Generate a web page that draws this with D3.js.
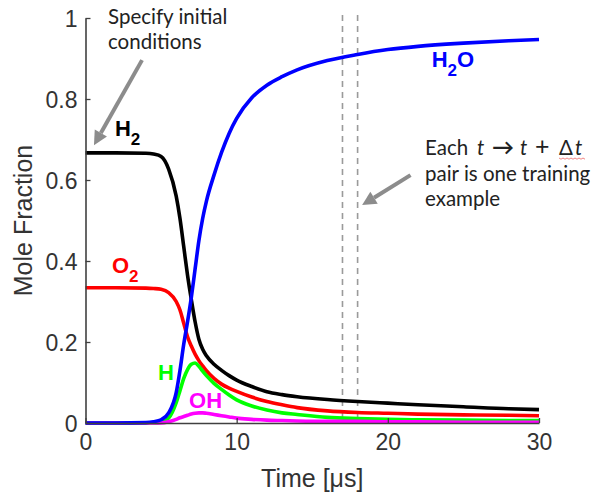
<!DOCTYPE html>
<html><head><meta charset="utf-8">
<script src="https://cdn.jsdelivr.net/npm/d3@7"></script>
<style>body{margin:0;background:#fff}svg{display:block}</style>
</head><body>
<svg id="c" width="599" height="493"></svg>
<script>
// ---- data ----
const times = [0,2,4,4.5,5,5.5,6,6.25,6.5,6.75,7,7.25,7.5,7.75,8,8.5,9,9.5,10,11,12,13,14,16,18,20,22,25,28,30];
const H2  = [0.667,0.667,0.666,0.664,0.658,0.627,0.56,0.505,0.435,0.365,0.305,0.25,0.207,0.182,0.166,0.145,0.13,0.117,0.106,0.09,0.077,0.07,0.065,0.058,0.053,0.049,0.045,0.04,0.035,0.033];
const O2  = [0.334,0.334,0.333,0.332,0.33,0.322,0.3,0.279,0.246,0.213,0.19,0.17,0.154,0.141,0.129,0.11,0.096,0.086,0.078,0.064,0.053,0.045,0.038,0.03,0.026,0.024,0.022,0.02,0.019,0.018];
const H   = [0,0,0,0,0.002,0.012,0.05,0.08,0.11,0.132,0.145,0.148,0.14,0.128,0.117,0.098,0.083,0.069,0.057,0.042,0.032,0.025,0.021,0.014,0.011,0.009,0.008,0.007,0.006,0.006];
const OH  = [0,0,0,0,0,0.003,0.009,0.013,0.016,0.019,0.022,0.024,0.025,0.025,0.024,0.021,0.018,0.015,0.012,0.009,0.007,0.006,0.005,0.004,0.004,0.003,0.003,0.002,0.002,0.002];
const H2O = [0,0,0.001,0.003,0.008,0.025,0.075,0.13,0.195,0.25,0.31,0.38,0.45,0.505,0.548,0.612,0.668,0.715,0.752,0.803,0.834,0.855,0.872,0.895,0.91,0.922,0.93,0.938,0.944,0.947];
const xTicks = [0,10,20,30];
const yTicks = [0,0.2,0.4,0.6,0.8,1];
const yTickLabels = ["0","0.2","0.4","0.6","0.8","1"];
const dashedTimes = [17,18];
const seriesNames = ["H2","O2","H","OH","H2O"];
const seriesColors = ["#000000","#ff0000","#00ff00","#ff00ff","#0000ff"];
const seriesValues = [H2,O2,H,OH,H2O];

// ---- chart ----
const svg = d3.select("#c");
const x = d3.scaleLinear().domain([0,30]).range([85.5,539]);
const y = d3.scaleLinear().domain([0,1]).range([423,18]);
const axisColor = "#404040";
const tickFont = "'Liberation Sans', Arial, sans-serif";

// dashed lines
svg.selectAll("line.dash").data(dashedTimes).enter().append("line")
  .attr("x1",d=>x(d)).attr("x2",d=>x(d)).attr("y1",y(1)-3).attr("y2",y(0))
  .attr("stroke","#9a9a9a").attr("stroke-width",1.6).attr("stroke-dasharray","6,5");

// series
const line = d3.line().x((d,i)=>x(times[i])).y(d=>y(d)).curve(d3.curveMonotoneX);
seriesValues.forEach((vals,k)=>{
  svg.append("path").datum(vals).attr("d",line).attr("fill","none")
    .attr("stroke",seriesColors[k]).attr("stroke-width",3.6)
    .attr("stroke-linejoin","round");
});

// axes
const xAxis = svg.append("g").attr("transform",`translate(0,${y(0)})`)
  .call(d3.axisBottom(x).tickValues(xTicks).tickSizeInner(-5).tickSizeOuter(0).tickPadding(14));
const yAxis = svg.append("g").attr("transform",`translate(${x(0)},0)`)
  .call(d3.axisLeft(y).tickValues(yTicks).tickFormat((d,i)=>yTickLabels[i]).tickSizeInner(-5).tickSizeOuter(0).tickPadding(8));
[xAxis,yAxis].forEach(g=>{
  g.select(".domain").attr("stroke",axisColor).attr("stroke-width",1.6);
  g.selectAll(".tick line").attr("stroke",axisColor).attr("stroke-width",1.3);
  g.selectAll(".tick text").attr("fill","#333").style("font-family",tickFont).style("font-size","23px");
});
xAxis.selectAll(".tick text").attr("dy","0.71em").attr("y",11);
yAxis.selectAll(".tick text").attr("dy","0.36em").attr("x",-8);

// axis titles
svg.append("text").attr("x",(x(0)+x(30))/2).attr("y",487).attr("text-anchor","middle")
  .attr("fill","#333").style("font-family",tickFont).style("font-size","25px").text("Time [\u03bcs]");
svg.append("text").attr("transform",`translate(32,${(y(0)+y(1))/2}) rotate(-90)`).attr("text-anchor","middle")
  .attr("fill","#333").style("font-family",tickFont).style("font-size","25px").text("Mole Fraction");

// species labels
const labFont = "'Liberation Sans', Arial, sans-serif";
function chem(px,py,color,parts){
  const t = svg.append("text").attr("x",px).attr("y",py).attr("fill",color)
    .style("font-family",labFont).style("font-size","22px").style("font-weight","bold");
  parts.forEach(p=>{
    if(p.sub){ t.append("tspan").attr("dy",9).style("font-size","17px").text(p.s); }
    else { t.append("tspan").attr("dy",p.after? -9:0).text(p.s); }
  });
}
chem(x(1.95),y(0.708),"#000",[{s:"H"},{s:"2",sub:true}]);
chem(x(1.75),y(0.37),"#ff0000",[{s:"O"},{s:"2",sub:true}]);
chem(x(22.9),y(0.878),"#0000ff",[{s:"H"},{s:"2",sub:true},{s:"O",after:true}]);
chem(x(4.8),y(0.106),"#00ff00",[{s:"H"}]);
chem(x(6.85),y(0.037),"#ff00ff",[{s:"OH"}]);

// annotations
const annFont = "Lato, 'Open Sans', sans-serif";
const annColor = "#222";
const annSize = "20.5px";
function plainLines(px,py,lines,lh){
  lines.forEach((l,i)=>{
    svg.append("text").attr("x",px).attr("y",py+i*lh).attr("fill",annColor)
      .style("font-family",annFont).style("font-size",annSize).text(l);
  });
}
plainLines(108,24,["Specify initial","conditions"],25);
plainLines(425,180.5,["pair is one training","example"],25.5);
// first line of second note, segments placed individually
const segs = [
  {s:"Each",x:425},{s:"t",x:477,it:true},{s:"\u2192",x:492,b:true},
  {s:"t",x:520,it:true},{s:"+",x:535,big:true},{s:"\u0394",x:559},{s:"t",x:575,it:true}
];
const l1 = svg.append("text").attr("y",155).attr("fill",annColor)
  .style("font-family",annFont).style("font-size",annSize);
segs.forEach(sg=>{
  const s = l1.append("tspan").attr("x",sg.x).text(sg.s);
  if(sg.it) s.style("font-style","italic");
  if(sg.b) s.style("font-weight","bold").style("font-size","22px");
  if(sg.big) s.style("font-size","25px");
});
// spell-check squiggle under Δt
svg.append("path")
  .attr("d",d3.range(0,28,2).map((d,i)=>(i?"L":"M")+(559+d)+","+(158+(i%2?1.2:0))).join(""))
  .attr("fill","none").attr("stroke","#e66").attr("stroke-width",0.8);

function arrow(t0,v0,t1,v1){
  const x0=x(t0),y0=y(v0),x1=x(t1),y1=y(v1);
  const ang=Math.atan2(y1-y0,x1-x0), L=14, W=7;
  const bx=x1-L*Math.cos(ang), by=y1-L*Math.sin(ang);
  svg.append("line").attr("x1",x0).attr("y1",y0).attr("x2",bx).attr("y2",by)
    .attr("stroke","#8c8c8c").attr("stroke-width",4);
  const px=-Math.sin(ang), py=Math.cos(ang);
  svg.append("polygon").attr("points",[[x1,y1],[bx+W*px,by+W*py],[bx-W*px,by-W*py]].map(p=>p.join(",")).join(" "))
    .attr("fill","#8c8c8c");
}
arrow(3.74,0.896,0.56,0.686);
arrow(21.5,0.612,18.3,0.538);
</script>
</body></html>
